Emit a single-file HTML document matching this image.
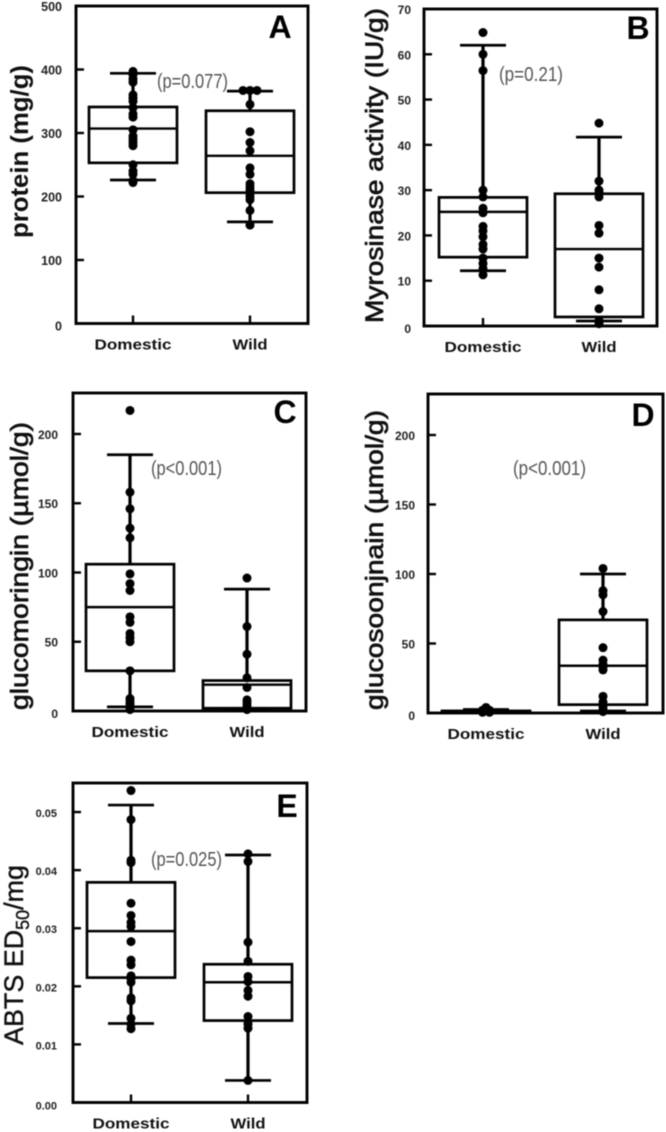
<!DOCTYPE html>
<html lang="en">
<head>
<meta charset="utf-8">
<title>Box plots: Domestic vs Wild</title>
<style>
  html, body { margin: 0; padding: 0; background: #fff; }
  body { width: 666px; height: 1132px; overflow: hidden; }
  #figure { display: block; filter: blur(0.6px); }
  text { font-family: "Liberation Sans", sans-serif; }
  .tick { font-weight: bold; fill: #222; text-anchor: end; }
  .cat { font-size: 15px; font-weight: bold; fill: #111; text-anchor: middle; }
  .ytitle { fill: #111; }
  .letter { font-size: 32px; font-weight: bold; fill: #000; text-anchor: middle; }
  .pval { font-size: 20px; fill: #555; }
</style>
</head>
<body>
<svg id="figure" xmlns="http://www.w3.org/2000/svg" width="666" height="1132" viewBox="0 0 666 1132"></svg>
<script>
// ---- Shared categories ----
const categories = ['Domestic', 'Wild'];

// ---- Panel A: protein ----
const aTicks = [0, 100, 200, 300, 400, 500];
const aTickLabels = ['0', '100', '200', '300', '400', '500'];
const aDomesticPoints = [397, 392, 385, 380, 360, 355, 350, 340, 330, 325, 305, 295, 290, 285, 280, 250, 240, 235, 225, 222];
const aWildPoints = [367, 367, 367, 345, 302, 285, 272, 245, 235, 220, 215, 210, 205, 200, 195, 178, 155];
const aDomesticBox = [226, 253, 307, 341, 394];
const aWildBox = [160, 206, 264, 335, 366];

// ---- Panel B: myrosinase ----
const bTicks = [0, 10, 20, 30, 40, 50, 60, 70];
const bTickLabels = ['0', '10', '20', '30', '40', '50', '60', '70'];
const bDomesticPoints = [64.8, 60, 56.4, 30, 28.5, 26, 25, 22, 21, 19.7, 18, 17, 15, 13.8, 12.7, 11.3];
const bWildPoints = [44.8, 32, 30, 29.5, 28.5, 22.2, 20.5, 15, 13, 8, 3.8, 1.2, 1, 0.5];
const bDomesticBox = [12.2, 15.2, 25.2, 28.4, 62];
const bWildBox = [1.1, 2, 17, 29.2, 41.7];

// ---- Panel C: glucomoringin ----
const cTicks = [0, 50, 100, 150, 200];
const cTickLabels = ['0', '50', '100', '150', '200'];
const cDomesticPoints = [217, 158, 146, 132, 125, 99, 92, 87, 68, 64, 56, 53, 50, 29, 9, 7, 5, 3, 1];
const cWildPoints = [96, 61, 41, 24, 17, 8, 6, 4, 1];
const cDomesticBox = [3, 29, 75, 106, 185];
const cWildBox = [1, 2, 19, 22, 88];

// ---- Panel D: glucosoonjnain ----
const dTicks = [0, 50, 100, 150, 200];
const dTickLabels = ['0', '50', '100', '150', '200'];
const dDomesticPoints = [4, 2, 2, 1, 1, 0.5, 0.5];
const dWildPoints = [104, 88, 85, 73, 47, 38, 35, 33, 31, 12, 8, 5, 3, 1];
const dDomesticBox = [0.5, 0.8, 1, 1.5, 2.5];
const dWildBox = [1.5, 6, 34, 67, 100];

// ---- Panel E: ABTS ----
const eTicks = [0, 0.01, 0.02, 0.03, 0.04, 0.05];
const eTickLabels = ['0.00', '0.01', '0.02', '0.03', '0.04', '0.05'];
const eDomesticPoints = [0.0537, 0.0487, 0.0417, 0.0413, 0.0343, 0.0322, 0.031, 0.0303, 0.0277, 0.0245, 0.0237, 0.0218, 0.0213, 0.0207, 0.018, 0.0175, 0.0145, 0.0135, 0.0127];
const eWildPoints = [0.0428, 0.0415, 0.0276, 0.0243, 0.0217, 0.0208, 0.0193, 0.0183, 0.0148, 0.0135, 0.0128, 0.0038];
const eDomesticBox = [0.0136, 0.0215, 0.0295, 0.0379, 0.0512];
const eWildBox = [0.0038, 0.0141, 0.0207, 0.0238, 0.0426];

const SVG_NS = 'http://www.w3.org/2000/svg';
const svg = document.getElementById('figure');

function make(parent, tag, attrs, text) {
  const node = document.createElementNS(SVG_NS, tag);
  for (const k in attrs) node.setAttribute(k, attrs[k]);
  if (text !== undefined) node.textContent = text;
  parent.appendChild(node);
  return node;
}

function drawPanel(p) {
  const g = make(svg, 'g', {});
  
  

  const yScale = v => p.bottom - (v / p.yMax) * (p.bottom - p.top);
  const xScale = i => p.catX[i];

  const frame = make(g, 'rect', { x: p.left, y: p.top, width: p.right - p.left, height: p.bottom - p.top, fill: 'none', stroke: '#000', 'stroke-width': 2.9 });
  
  

  p.ticks.forEach((t, i) => {
    const y = yScale(t);
    if (t > 0 && y > p.top + 2) {
      const tick = make(g, 'line', { x1: p.left, x2: p.left + 8, y1: y, y2: y, stroke: '#000', 'stroke-width': 2.4 });
      
      
    }
    const label = make(g, 'text', { class: 'tick', 'font-size': p.tickSize, x: p.left - p.tickGap, y: y + 5 + (i === 0 ? 2 : 0) }, p.tickLabels[i]);
    
    
  });

  categories.forEach((c, i) => {
    const x = xScale(i);
    const tick = make(g, 'line', { x1: x, x2: x, y1: p.bottom - 8, y2: p.bottom, stroke: '#000', 'stroke-width': 2.4 });
    
    
    const label = make(g, 'text', { class: 'cat', x: x, y: p.bottom + 26, textLength: i === 0 ? 77 : 35, lengthAdjust: 'spacingAndGlyphs' }, c);
    
    
  });

  [p.boxes[0], p.boxes[1]].forEach((b, i) => {
    const x = xScale(i);
    const [wLow, q1, med, q3, wHigh] = b;
    const hw = 44, cap = 23;
    const series = make(g, 'g', {});
    
    

    const whiskers = make(series, 'path', {
      d: 'M' + x + ' ' + yScale(q3) + 'V' + yScale(wHigh) + 'M' + x + ' ' + yScale(q1) + 'V' + yScale(wLow),
      stroke: '#000', 'stroke-width': 3.2, fill: 'none'
    });
    
    

    [wLow, wHigh].forEach(w => {
      const capLine = make(series, 'line', { x1: x - cap, x2: x + cap, y1: yScale(w), y2: yScale(w), stroke: '#000', 'stroke-width': 2.7 });
      
      
    });

    const box = make(series, 'rect', { x: x - hw, y: yScale(q3), width: 2 * hw, height: yScale(q1) - yScale(q3), fill: 'none', stroke: '#000', 'stroke-width': 2.7 });
    
    

    const median = make(series, 'line', { x1: x - hw, x2: x + hw, y1: yScale(med), y2: yScale(med), stroke: '#000', 'stroke-width': 2.4 });
    
    

    // Identical values spread sideways, as in a dot swarm.
    const seen = {};
    p.points[i].forEach(v => {
      const n = seen[v] = (seen[v] || 0) + 1;
      const total = p.points[i].filter(o => o === v).length;
      const off = (n - 1 - (total - 1) / 2) * 7;
      const dot = make(series, 'circle', { cx: x + off, cy: yScale(v), r: 4.5, fill: '#000' });
      
      
    });
  });

  const title = make(g, 'text', {
    class: 'ytitle',
    'font-size': p.titleSize,
    'font-weight': p.titleWeight,
    stroke: '#111',
    'stroke-width': p.titleStroke,
    transform: 'translate(' + p.titleX + ' ' + p.titleBottom + ') rotate(-90)',
    textLength: p.titleLen,
    lengthAdjust: 'spacingAndGlyphs'
  });
  
  
  p.title.forEach(part => {
    make(title, 'tspan', part.sub ? { dy: 6, 'font-size': 18 } : (part.back ? { dy: -6 } : {}), part.t);
  });

  const letter = make(g, 'text', { class: 'letter', x: p.letterX, y: p.letterY }, p.letter);
  
  

  const pval = make(g, 'text', { class: 'pval', x: p.pX, y: p.pY, textLength: p.pLen, lengthAdjust: 'spacingAndGlyphs' }, p.pText);
  
  
}

drawPanel({
  letter: 'A', left: 76, right: 308, top: 6, bottom: 323.5, yMax: 500, catX: [133, 250],
  ticks: aTicks, tickLabels: aTickLabels, tickSize: 12.5, tickGap: 14,
  points: [aDomesticPoints, aWildPoints], boxes: [aDomesticBox, aWildBox],
  title: [{ t: 'protein (mg/g)' }], titleX: 28, titleBottom: 238, titleLen: 173, titleSize: 25, titleWeight: 'bold', titleStroke: 0,
  letterX: 280, letterY: 38, pText: '(p=0.077)', pX: 157, pY: 88, pLen: 71
});
drawPanel({
  letter: 'B', left: 424, right: 657, top: 9, bottom: 326, yMax: 70, catX: [483, 599],
  ticks: bTicks, tickLabels: bTickLabels, tickSize: 12, tickGap: 13,
  points: [bDomesticPoints, bWildPoints], boxes: [bDomesticBox, bWildBox],
  title: [{ t: 'Myrosinase  activity (IU/g)' }], titleX: 383, titleBottom: 323, titleLen: 315, titleSize: 25, titleWeight: 'normal', titleStroke: 0.7,
  letterX: 638, letterY: 39, pText: '(p=0.21)', pX: 499, pY: 81, pLen: 64
});
drawPanel({
  letter: 'C', left: 73, right: 306, top: 393, bottom: 711, yMax: 229.6, catX: [130, 247],
  ticks: cTicks, tickLabels: cTickLabels, tickSize: 12, tickGap: 15,
  points: [cDomesticPoints, cWildPoints], boxes: [cDomesticBox, cWildBox],
  title: [{ t: 'glucomoringin  (µmol/g)' }], titleX: 28, titleBottom: 710, titleLen: 288, titleSize: 25, titleWeight: 'normal', titleStroke: 0.7,
  letterX: 285, letterY: 423, pText: '(p<0.001)', pX: 151, pY: 475, pLen: 71
});
drawPanel({
  letter: 'D', left: 428, right: 663, top: 394, bottom: 713, yMax: 229.5, catX: [486, 603],
  ticks: dTicks, tickLabels: dTickLabels, tickSize: 12, tickGap: 13,
  points: [dDomesticPoints, dWildPoints], boxes: [dDomesticBox, dWildBox],
  title: [{ t: 'glucosoonjnain (µmol/g)' }], titleX: 383, titleBottom: 710, titleLen: 300, titleSize: 25, titleWeight: 'normal', titleStroke: 0.7,
  letterX: 643, letterY: 426, pText: '(p<0.001)', pX: 513, pY: 475, pLen: 73
});
drawPanel({
  letter: 'E', left: 73, right: 307, top: 783, bottom: 1102.5, yMax: 0.055, catX: [131, 248],
  ticks: eTicks, tickLabels: eTickLabels, tickSize: 11, tickGap: 16,
  points: [eDomesticPoints, eWildPoints], boxes: [eDomesticBox, eWildBox],
  title: [{ t: 'ABTS ED' }, { t: '50', sub: true }, { t: '/mg', back: true }], titleX: 23, titleBottom: 1045, titleLen: 180, titleSize: 27, titleWeight: 'normal', titleStroke: 0.4,
  letterX: 287, letterY: 817, pText: '(p=0.025)', pX: 151, pY: 866, pLen: 71
});
</script>
</body>
</html>
